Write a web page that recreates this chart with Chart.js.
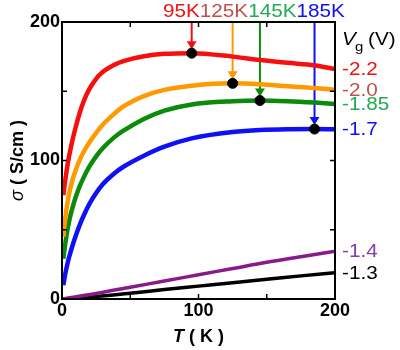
<!DOCTYPE html>
<html>
<head>
<meta charset="utf-8">
<script src="https://cdn.jsdelivr.net/npm/chart.js@4.4.1/dist/chart.umd.min.js"></script>
<style>
  html, body { margin: 0; padding: 0; background: #fff; }
</style>
</head>
<body>
<canvas id="c" width="400" height="350"></canvas>
<script>
// Temperature grid (K) for the four metallic-like curves
const T_GRID = [1, 2, 3, 4, 5, 6, 8, 10, 13, 16, 20, 25, 30, 38, 45, 60, 75, 95, 125, 145, 165, 185, 200];
const sigmaM22 = [75, 83, 90, 96.5, 102, 107, 116, 124, 134.5, 143, 151.5, 159, 164, 169, 171.8, 175.3, 177, 177.5, 175, 172.5, 170.5, 168.8, 166];
const sigmaM20 = [45, 55, 63, 69.5, 75, 79.5, 87, 93, 100.5, 106.5, 113, 120, 126, 133.5, 139, 146.5, 151, 154, 155.7, 155, 153.6, 152.3, 151];
const sigmaM185 = [29, 37, 44, 50, 55, 59.5, 67, 73.5, 81.5, 88, 95.5, 103, 109, 116.5, 121.5, 130, 136, 140.5, 142.8, 143.3, 142.8, 141.8, 140.8];
const sigmaM17 = [10, 16, 21, 25.5, 29.5, 33, 39.5, 45.5, 53.5, 60.5, 68.5, 76.5, 83, 90.5, 95.5, 103.5, 110, 116, 120.5, 122, 122.6, 122.7, 122.5];

// Temperature grid (K) for the two insulating curves
const T_LIN = [0, 25, 50, 75, 100, 125, 150, 175, 200];
const sigmaM14 = [0, 4, 8.5, 13, 17.5, 22, 26.5, 30.5, 34.5];
const sigmaM13 = [0, 1.8, 4.2, 6.8, 9.3, 11.8, 14.2, 16.7, 19];

// Maxima marked with arrows
const peakT = [95, 125, 145, 185];
const peakSigma = [177.5, 155.7, 143.3, 122.7];
const peakLabels = ['95K', '125K', '145K', '185K'];

// Gate voltage labels (right side)
const vgLabels = ['-2.2', '-2.0', '-1.85', '-1.7', '-1.4', '-1.3'];

// Axis ticks
const xTicks = [0, 100, 200];
const yTicks = [0, 100, 200];
const minorTicks = [50, 100, 150];

const curveColors = ['#f50f0f', '#ff9900', '#0b8a0b', '#1010f5', '#8a1a8a', '#000000'];
const vgColors = ['#ee1111', '#c0504d', '#22aa55', '#1010ee', '#8040a8', '#000000'];
const peakColors = ['#ee1111', '#ff9900', '#0b8a0b', '#1010f5'];
const peakTextColors = ['#ee1111', '#c0504d', '#22aa55', '#1010ee'];

const SX = 1.15; // the original lettering is a bit wide

function pts(xs, ys) {
  return xs.map((x, i) => ({ x: x, y: ys[i] }));
}

const series = [
  pts(T_GRID, sigmaM22),
  pts(T_GRID, sigmaM20),
  pts(T_GRID, sigmaM185),
  pts(T_GRID, sigmaM17),
  pts(T_LIN, sigmaM14),
  pts(T_LIN, sigmaM13)
];

const datasets = series.map((d, i) => ({
  data: d,
  borderColor: curveColors[i],
  borderWidth: i < 4 ? 4.5 : 3.5,
  pointRadius: 0,
  cubicInterpolationMode: 'monotone',
  fill: false,
  order: 2
}));

datasets.push({
  type: 'scatter',
  data: pts(peakT, peakSigma),
  pointRadius: 5,
  pointBackgroundColor: '#000',
  pointBorderColor: '#000',
  showLine: false,
  order: 0
});

function drawText(ctx, s, x, y, font, color, align) {
  ctx.save();
  ctx.font = font;
  ctx.fillStyle = color;
  ctx.textBaseline = 'middle';
  ctx.textAlign = align || 'left';
  ctx.translate(x, y);
  ctx.scale(SX, 1);
  ctx.fillText(s, 0, 0);
  ctx.restore();
}

const annot = {
  id: 'annot',
  beforeDatasetsDraw(chart) {
    const ctx = chart.ctx;
    const xs = chart.scales.x, ys = chart.scales.y;
    const top = chart.chartArea.top - 1;
    ctx.save();
    peakT.forEach((t, i) => {
      const x = xs.getPixelForValue(t);
      const tip = ys.getPixelForValue(peakSigma[i]) - 4;
      ctx.strokeStyle = peakColors[i];
      ctx.fillStyle = peakColors[i];
      ctx.lineWidth = 2;
      ctx.beginPath();
      ctx.moveTo(x, top);
      ctx.lineTo(x, tip - 6);
      ctx.stroke();
      ctx.beginPath();
      ctx.moveTo(x - 5, tip - 8);
      ctx.lineTo(x + 5, tip - 8);
      ctx.lineTo(x, tip);
      ctx.closePath();
      ctx.fill();
    });
    ctx.restore();
  },
  afterDraw(chart) {
    const ctx = chart.ctx;
    const a = chart.chartArea;
    const xs = chart.scales.x, ys = chart.scales.y;
    ctx.save();
    // frame
    ctx.strokeStyle = '#000';
    ctx.lineWidth = 2;
    ctx.strokeRect(a.left, a.top, a.right - a.left, a.bottom - a.top);
    // inward ticks on all four sides
    ctx.lineWidth = 1.5;
    minorTicks.forEach(v => {
      const x = xs.getPixelForValue(v);
      const y = ys.getPixelForValue(v);
      ctx.beginPath();
      ctx.moveTo(x, a.bottom); ctx.lineTo(x, a.bottom - 5);
      ctx.moveTo(x, a.top); ctx.lineTo(x, a.top + 5);
      ctx.moveTo(a.left, y); ctx.lineTo(a.left + 5, y);
      ctx.moveTo(a.right, y); ctx.lineTo(a.right - 5, y);
      ctx.stroke();
    });
    ctx.restore();

    // y axis title: σ ( S/cm )
    ctx.save();
    const fI = 'italic 18px "Liberation Sans"';
    const fB = 'bold 18px "Liberation Sans"';
    ctx.font = fI; const w1 = ctx.measureText('σ ').width;
    ctx.font = fB; const w2 = ctx.measureText('( S/cm )').width;
    ctx.translate(18, (a.top + a.bottom) / 2);
    ctx.rotate(-Math.PI / 2);
    ctx.textBaseline = 'middle';
    ctx.fillStyle = '#000';
    let x0 = -(w1 + w2) / 2;
    ctx.font = fI; ctx.fillText('σ ', x0, 0);
    ctx.font = fB; ctx.fillText('( S/cm )', x0 + w1, 0);
    ctx.restore();

    // x axis title: T ( K )
    ctx.save();
    const fBI = 'italic bold 18px "Liberation Sans"';
    ctx.font = fBI; const t1 = ctx.measureText('T ').width;
    ctx.font = fB; const t2 = ctx.measureText('( K )').width;
    ctx.textBaseline = 'middle';
    ctx.fillStyle = '#000';
    const cx = (a.left + a.right) / 2;
    x0 = cx - (t1 + t2) / 2;
    ctx.font = fBI; ctx.fillText('T ', x0, 337);
    ctx.font = fB; ctx.fillText('( K )', x0 + t1, 337);
    ctx.restore();

    // V_g (V)
    const lx = a.right + 7;
    drawText(ctx, 'V', lx, 40, 'italic 18px "Liberation Sans"', '#000');
    drawText(ctx, 'g', lx + 13, 47, '13px "Liberation Sans"', '#000');
    drawText(ctx, '(V)', lx + 26, 40, '18px "Liberation Sans"', '#000');

    // gate voltage labels at the curve ends
    series.forEach((d, i) => {
      const y = ys.getPixelForValue(d[d.length - 1].y);
      drawText(ctx, vgLabels[i], lx, y + 1, '18px "Liberation Sans"', vgColors[i]);
    });

    // temperature labels along the top
    ctx.save();
    ctx.font = '18px "Liberation Sans"';
    let px = 163;
    peakLabels.forEach((s, i) => {
      drawText(ctx, s, px, 12, '18px "Liberation Sans"', peakTextColors[i]);
      px += ctx.measureText(s).width * SX;
    });
    ctx.restore();
  }
};

Chart.defaults.font.family = '"Liberation Sans", Arial, sans-serif';

new Chart(document.getElementById('c'), {
  type: 'line',
  data: { datasets: datasets },
  options: {
    responsive: false,
    animation: false,
    layout: { padding: { left: 0, right: 65, top: 22, bottom: 0 } },
    scales: {
      x: {
        type: 'linear',
        min: 0, max: 200,
        afterFit(scale) { scale.height = 51; },
        afterBuildTicks(scale) { scale.ticks = xTicks.map(v => ({ value: v })); },
        grid: { display: false, drawTicks: false, tickLength: 0 },
        border: { display: false },
        ticks: {
          color: '#000',
          padding: 1,
          maxRotation: 0,
          autoSkip: false,
          font: { size: 18, weight: 'bold' }
        }
      },
      y: {
        min: 0, max: 200,
        afterFit(scale) { scale.width = 62; },
        afterBuildTicks(scale) { scale.ticks = yTicks.map(v => ({ value: v })); },
        grid: { display: false, drawTicks: false, tickLength: 0 },
        border: { display: false },
        ticks: {
          color: '#000',
          padding: 2,
          autoSkip: false,
          font: { size: 18, weight: 'bold' }
        }
      }
    },
    plugins: {
      legend: { display: false },
      tooltip: { enabled: false }
    }
  },
  plugins: [annot]
});
</script>
</body>
</html>
